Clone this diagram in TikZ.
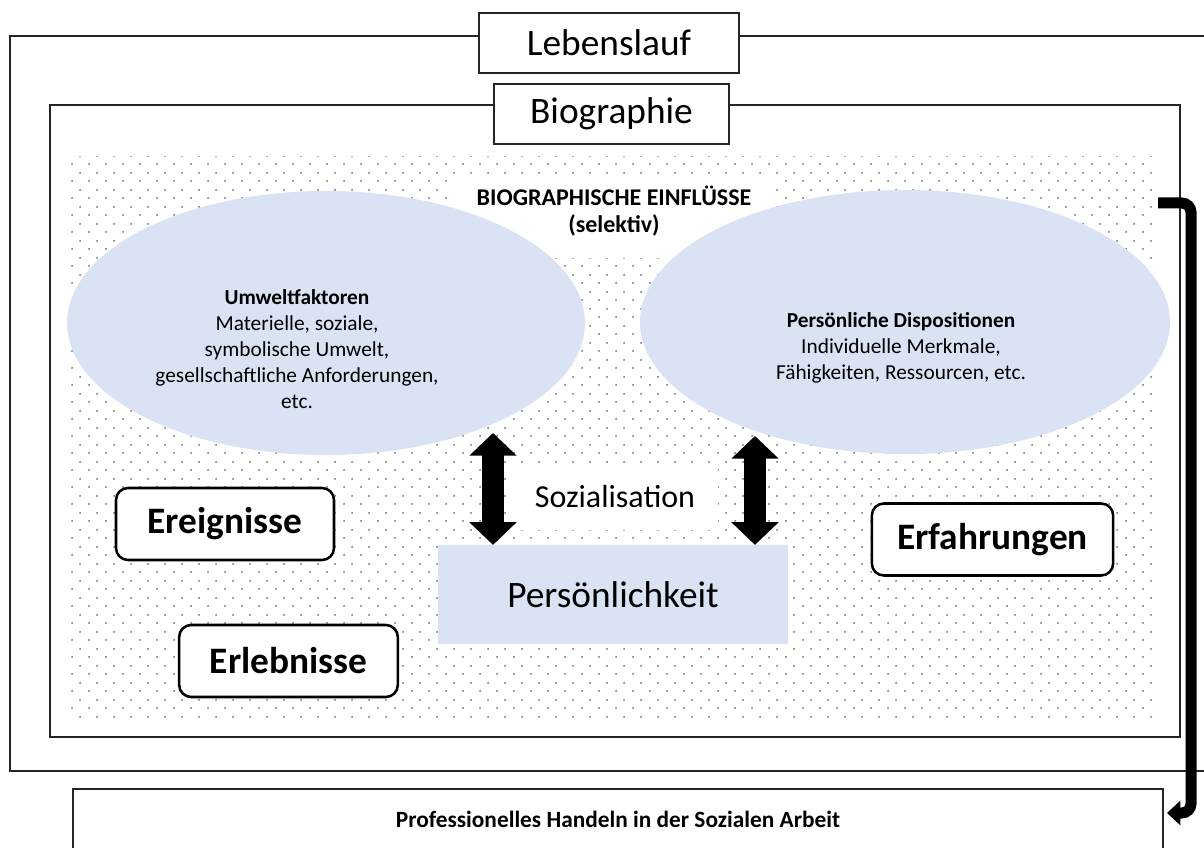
\documentclass[tikz,border=0pt]{standalone}
\usepackage{fontspec}
\setmainfont{Carlito}
\usepackage{tikz}
\usetikzlibrary{arrows.meta,positioning,shapes.geometric,patterns.meta}

\definecolor{hellblau}{RGB}{218,227,243}
\tikzdeclarepattern{
  name=einfldots,
  type=uncolored,
  bottom left={(0pt,0pt)},
  top right={(12.75pt,12.75pt)},
  tile size={(12.75pt,12.75pt)},
  code={
    \fill (3.2pt,3.2pt) circle (0.75pt);
    \fill (9.575pt,9.575pt) circle (0.75pt);
  }
}

\begin{document}
\begin{tikzpicture}[
  x=0.75pt,y=-0.75pt,
  font=\fontsize{16}{19.5}\selectfont,
  frame/.style={draw=black!85,line width=1.1pt},
  titel/.style={rectangle,draw=black!85,line width=1.1pt,fill=white,minimum width=#1,minimum height=45pt,inner sep=0pt,font=\fontsize{28}{34}\selectfont},
  oval/.style={ellipse,fill=hellblau,inner sep=0pt,minimum width=#1,minimum height=198pt},
  weiss/.style={rectangle,fill=white,inner sep=0pt,align=center},
  feld/.style={rectangle,rounded corners=9pt,draw=black,line width=1.9pt,fill=white,inner sep=0pt,minimum height=54pt,font=\fontsize{28}{34}\selectfont\bfseries},
  doppel/.style={{Triangle[length=17pt,width=34.5pt]}-{Triangle[length=17pt,width=34.5pt]},line width=16pt},
  bogen/.style={-{Triangle[length=10pt,width=18pt]},line width=8.25pt,rounded corners=7pt}
]
\useasboundingbox (0,0) rectangle (1204,848);
\draw[frame] (10,36) rectangle (1215,771);
\draw[frame] (50,105) rectangle (1180,737);
\fill[pattern=einfldots,pattern color=black!65] (69,157) rectangle (1158,717);

\node[weiss,minimum width=242pt,minimum height=62pt] (einfl) at (613.5,216.5) {};
\node[oval=388.5pt] (umwelt) at (326,323) {};
\node[oval=397.5pt] (dispo) at (905,322) {};
\node[align=center,font=\fontsize{18}{20.25}\selectfont\bfseries] (einfltxt) at (614,211) {BIOGRAPHISCHE EINFLÜSSE\\(selektiv)};
\node[align=center] (umwtxt) at (297,349) {\textbf{Umweltfaktoren}\\Materielle, soziale,\\symbolische Umwelt,\\gesellschaftliche Anforderungen,\\etc.};
\node[align=center] (disptxt) at (901,348) {\textbf{Persönliche Dispositionen}\\Individuelle Merkmale,\\Fähigkeiten, Ressourcen, etc.};

\node[weiss,minimum width=154.5pt,minimum height=50pt,font=\fontsize{24}{29}\selectfont] (sozial) at (615,496.5) {Sozialisation};
\node[rectangle,fill=hellblau,minimum width=262.5pt,minimum height=74pt,inner sep=0pt,font=\fontsize{28}{34}\selectfont] (pers) at (613,594.5) {Persönlichkeit};
\coordinate (sozl) at (493,433);
\coordinate (sozr) at (755,436);
\draw[doppel] (sozl) -- (sozl |- pers.north);
\draw[doppel] (sozr) -- (sozr |- pers.north);

\node[feld,minimum width=163.5pt] (ereig) at (225,524) {Ereignisse};
\node[feld,minimum width=164pt] (erleb) at (288.5,661) {Erlebnisse};
\node[feld,minimum width=181pt] (erfahr) at (992.5,539.5) {Erfahrungen};

\node[titel=195pt] (lauf) at (609,43) {Lebenslauf};
\node[titel=176pt] (bio) at (611.5,114) {Biographie};

\node[rectangle,draw=black!85,line width=1.1pt,fill=white,minimum width=817.5pt,minimum height=45pt,inner sep=0pt,font=\fontsize{17.5}{21}\selectfont\bfseries] (handeln) at (618,819) {Professionelles Handeln in der Sozialen Arbeit};
\coordinate (einflaus) at (1158,203);
\coordinate (handelnein) at (1167,813);
\draw[bogen] (einflaus) -- ++(33,0) |- (handelnein);
\end{tikzpicture}
\end{document}
